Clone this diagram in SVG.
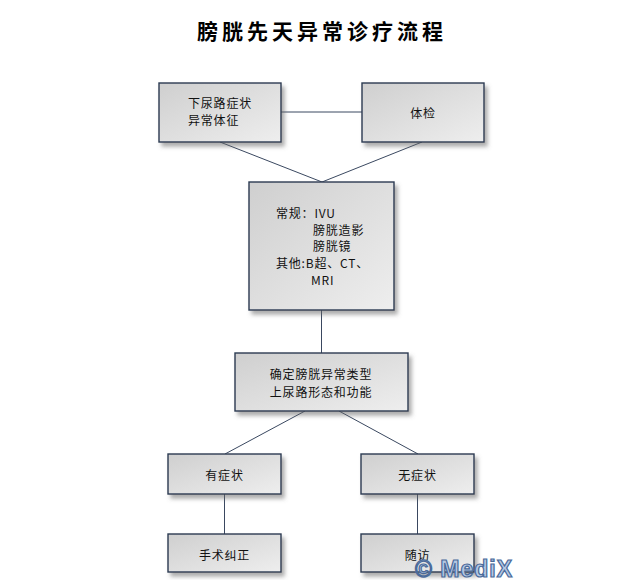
<svg xmlns="http://www.w3.org/2000/svg" width="642" height="580" viewBox="0 0 642 580">
<defs>
<linearGradient id="g" x1="0" y1="0" x2="1" y2="1">
<stop offset="0" stop-color="#cfcfcf"/>
<stop offset="1" stop-color="#eeeeee"/>
</linearGradient>
<filter id="sh" x="-10%" y="-10%" width="130%" height="140%">
<feDropShadow dx="3" dy="4" stdDeviation="2.2" flood-color="#666" flood-opacity="0.55"/>
</filter>
</defs>
<style>
.box{fill:url(#g);stroke:#2b3a52;stroke-width:1.4;filter:url(#sh)}
.t{font-family:"Noto Sans CJK SC","Liberation Sans",sans-serif;font-size:12px;fill:#111;letter-spacing:0.8px}
.c{stroke:#3a4860;stroke-width:1;fill:none}
.title{font-family:"Noto Sans CJK SC",sans-serif;font-size:21px;font-weight:bold;fill:#000;letter-spacing:4px}
.wm{font-family:"Liberation Sans","DejaVu Sans",sans-serif;font-size:23px;font-weight:bold;fill:#b4c8e4;stroke:#4a6a9a;stroke-width:1.2;letter-spacing:1px}
</style>
<rect width="642" height="580" fill="#fff"/>
<text class="title" x="197" y="39">膀胱先天异常诊疗流程</text>
<g id="connectors">
<line class="c" x1="281" y1="112" x2="362" y2="112"/>
<line class="c" x1="220" y1="142" x2="322" y2="182"/>
<line class="c" x1="422" y1="142" x2="322" y2="182"/>
<line class="c" x1="321.5" y1="310" x2="321.5" y2="353"/>
<line class="c" x1="305" y1="411" x2="225" y2="454"/>
<line class="c" x1="339" y1="411" x2="418" y2="454"/>
<line class="c" x1="224.5" y1="494" x2="224.5" y2="534"/>
<line class="c" x1="417.5" y1="494" x2="417.5" y2="534"/>
</g>
<g id="n1">
<rect class="box" x="159" y="83" width="122" height="59"/>
<text class="t" x="188" y="108">下尿路症状</text>
<text class="t" x="188" y="125">异常体征</text>
</g>
<g id="n2">
<rect class="box" x="362" y="83" width="122" height="59"/>
<text class="t" x="423" y="118" text-anchor="middle">体检</text>
</g>
<g id="n3">
<rect class="box" x="249" y="182" width="145" height="128"/>
<text class="t" x="276" y="218">常规：IVU</text>
<text class="t" x="313" y="235">膀胱造影</text>
<text class="t" x="313" y="251">膀胱镜</text>
<text class="t" x="276" y="268">其他:B超、CT、</text>
<text class="t" x="311" y="285">MRI</text>
</g>
<g id="n4">
<rect class="box" x="235" y="353" width="173" height="58"/>
<text class="t" x="321" y="379" text-anchor="middle">确定膀胱异常类型</text>
<text class="t" x="321" y="397" text-anchor="middle">上尿路形态和功能</text>
</g>
<g id="n5">
<rect class="box" x="168" y="454" width="113" height="40"/>
<text class="t" x="224.5" y="480" text-anchor="middle">有症状</text>
</g>
<g id="n6">
<rect class="box" x="361" y="454" width="113" height="40"/>
<text class="t" x="417.5" y="480" text-anchor="middle">无症状</text>
</g>
<g id="n7">
<rect class="box" x="168" y="534" width="113" height="38"/>
<text class="t" x="224.5" y="560" text-anchor="middle">手术纠正</text>
</g>
<g id="n8">
<rect class="box" x="361" y="534" width="113" height="38"/>
<text class="t" x="417.5" y="560" text-anchor="middle">随访</text>
</g>
<text class="wm" x="415" y="577">© MediX</text>
</svg>
